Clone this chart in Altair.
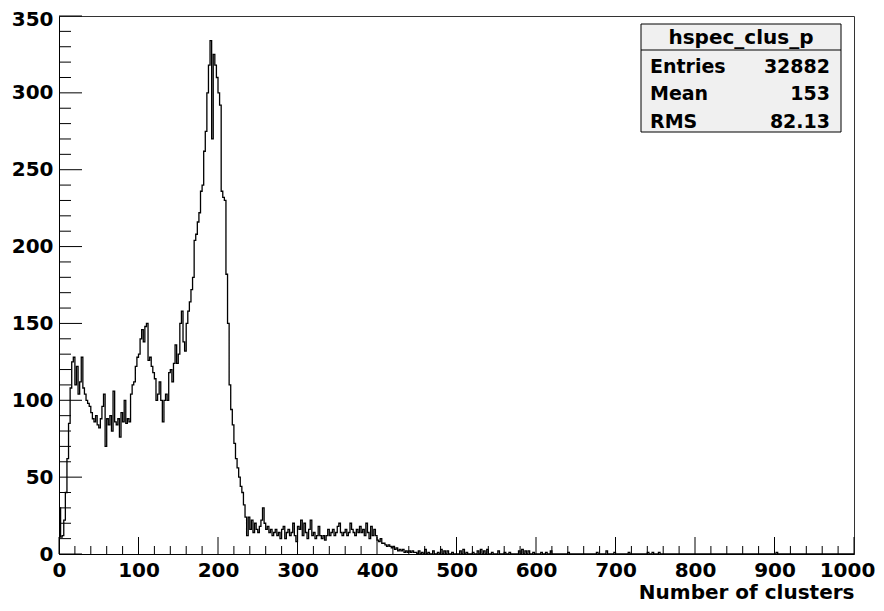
import altair as alt
import pandas as pd

# ---- data (bin width 2, bins starting at 0,2,...,448) ----
main_start = 0
bin_width = 2
main_counts = [
    30, 11, 12, 22, 40, 62, 85, 108, 125, 128,      # 0-18
    110, 122, 104, 112, 128, 108, 104, 100, 98, 96,  # 20-38
    92, 88, 86, 90, 84, 82, 88, 96, 104, 70,         # 40-58
    88, 84, 90, 80, 106, 86, 84, 88, 76, 92,         # 60-78
    86, 100, 85, 88, 86, 104, 110, 112, 122, 128,    # 80-98
    130, 140, 146, 138, 148, 150, 126, 128, 122, 118,  # 100-118
    114, 100, 104, 112, 100, 86, 100, 104, 100, 118,   # 120-138
    120, 112, 124, 136, 124, 130, 150, 158, 138, 132,  # 140-158
    150, 158, 164, 172, 180, 204, 208, 216, 222, 236,  # 160-178
    240, 262, 275, 300, 318, 334, 270, 325, 318, 310,  # 180-198
    300, 292, 236, 232, 230, 182, 150, 110, 94, 84,    # 200-218
    72, 62, 56, 50, 44, 40, 32, 24, 12, 24,            # 220-238
    16, 22, 14, 20, 16, 14, 18, 22, 30, 20,            # 240-258
    16, 18, 14, 16, 12, 14, 16, 12, 14, 10,            # 260-278
    16, 18, 10, 14, 16, 12, 14, 20, 12, 8,             # 280-298
    18, 16, 22, 12, 20, 14, 10, 16, 22, 12,            # 300-318
    14, 10, 12, 18, 12, 10, 12, 9, 12, 16,             # 320-338
    12, 14, 16, 12, 14, 18, 20, 14, 12, 14,            # 340-358
    16, 12, 14, 20, 16, 14, 12, 16, 14, 18,            # 360-378
    14, 16, 12, 20, 14, 10, 18, 12, 16, 12,            # 380-398
    9, 8, 10, 7, 7, 6, 5, 6, 5, 4,                     # 400-418
    5, 3, 4, 2, 3, 2, 3, 1, 2, 1,                      # 420-438
    2, 1, 2, 1, 1,                                     # 440-448
]
tail_x = [452, 456, 460, 464, 470, 476, 480, 484, 488, 494, 504, 508, 512, 520,
          526, 530, 534, 538, 544, 552, 560, 566, 578, 582, 586, 590, 596, 606,
          612, 618, 640, 676, 688, 698, 716, 740, 746, 754, 902]
tail_y = [2, 1, 3, 1, 2, 1, 3, 2, 2, 1, 2, 3, 1, 1,
          2, 3, 2, 3, 1, 2, 1, 1, 2, 3, 2, 2, 1, 1,
          1, 2, 1, 1, 2, 1, 1, 1, 1, 1, 1]

x_label_values = list(range(0, 1001, 100))
y_label_values = list(range(0, 351, 50))
x_minor = [v for v in range(0, 1001, 20) if v % 100]
y_minor = [v for v in range(0, 351, 10) if v % 50]

stat_title = "hspec_clus_p"
stat_names = ["Entries", "Mean", "RMS"]
stat_values = ["32882", "153", "82.13"]

# ---- build table ----
counts = {}
for i, c in enumerate(main_counts):
    counts[main_start + i * bin_width] = c
for xv, yv in zip(tail_x, tail_y):
    counts[xv] = yv
xs = list(range(0, 1000, bin_width))
hist = pd.DataFrame({"x": xs + [1000], "count": [counts.get(v, 0) for v in xs] + [0]})

W, H = 795, 538
FONT = "DejaVu Sans"

xscale = alt.Scale(domain=[0, 1000], nice=False, zero=False)
yscale = alt.Scale(domain=[0, 350], nice=False)

xaxis = alt.Axis(
    values=x_label_values, format="d", ticks=False, tickSize=0, grid=False,
    labelFlush=False, labelOverlap=False, labelPadding=6,
    labelOffset={"expr": "datum.value == 1000 ? -7 : 0"},
    labelFont=FONT, labelFontWeight="bold", labelFontSize=20, labelColor="black",
    domainColor="black", domainWidth=1,
    title="Number of clusters", titleAnchor="end", titleFont=FONT,
    titleFontWeight="bold", titleFontSize=20, titleColor="black", titlePadding=2)
yaxis = alt.Axis(
    values=y_label_values, format="d", ticks=False, tickSize=0, grid=False,
    labelFlush=False, labelOverlap=False, labelPadding=6,
    labelOffset={"expr": "datum.value == 350 ? 3 : 0"},
    labelFont=FONT, labelFontWeight="bold", labelFontSize=20, labelColor="black",
    domainColor="black", domainWidth=1, title=None)

line = alt.Chart(hist).mark_line(interpolate="step-after", color="black", strokeWidth=1.3).encode(
    x=alt.X("x:Q", scale=xscale, axis=xaxis),
    y=alt.Y("count:Q", scale=yscale, axis=yaxis),
)

def xticks(vals, length):
    df = pd.DataFrame({"v": vals})
    return alt.Chart(df).mark_rule(color="black", strokeWidth=1).encode(
        x=alt.X("v:Q", scale=xscale, axis=xaxis),
        y=alt.value(H), y2=alt.value(H - length))

def yticks(vals, length):
    df = pd.DataFrame({"v": vals})
    return alt.Chart(df).mark_rule(color="black", strokeWidth=1).encode(
        y=alt.Y("v:Q", scale=yscale, axis=yaxis),
        x=alt.value(0), x2=alt.value(length))

# stats box
bx0, bx1, by0, by1, bsep = 582, 782, 8, 116, 34
box = alt.Chart(pd.DataFrame({"a": [0]})).mark_rect(
    fill="#f0f0f0", stroke="black", strokeWidth=1).encode(
    x=alt.value(bx0), x2=alt.value(bx1), y=alt.value(by0), y2=alt.value(by1))
sep = alt.Chart(pd.DataFrame({"a": [0]})).mark_rule(color="black", strokeWidth=1).encode(
    x=alt.value(bx0), x2=alt.value(bx1), y=alt.value(bsep))
title_txt = alt.Chart(pd.DataFrame({"t": [stat_title]})).mark_text(
    font=FONT, fontWeight="bold", fontSize=20, color="black", align="center", baseline="alphabetic"
).encode(text="t:N", x=alt.value((bx0 + bx1) / 2), y=alt.value(28))

stat_layers = []
row_y = [57, 84, 112]
for name, val, yy in zip(stat_names, stat_values, row_y):
    d = pd.DataFrame({"n": [name], "v": [val]})
    stat_layers.append(alt.Chart(d).mark_text(
        font=FONT, fontWeight="bold", fontSize=19, color="black", align="left", baseline="alphabetic"
    ).encode(text="n:N", x=alt.value(bx0 + 9), y=alt.value(yy)))
    stat_layers.append(alt.Chart(d).mark_text(
        font=FONT, fontWeight="bold", fontSize=19, color="black", align="right", baseline="alphabetic"
    ).encode(text="v:N", x=alt.value(bx1 - 11), y=alt.value(yy)))

chart = alt.layer(
    line,
    xticks(x_label_values, 17), xticks(x_minor, 8),
    yticks(y_label_values, 23), yticks(y_minor, 12),
    box, sep, title_txt, *stat_layers,
).properties(
    width=W, height=H,
    autosize=alt.AutoSizeParams(type="none"),
    padding={"left": 51, "top": 8, "right": 22, "bottom": 49},
    background="white",
).configure_view(stroke="#333333", strokeWidth=1)

chart.save("out.html", embed_options={"renderer": "svg", "actions": False})
